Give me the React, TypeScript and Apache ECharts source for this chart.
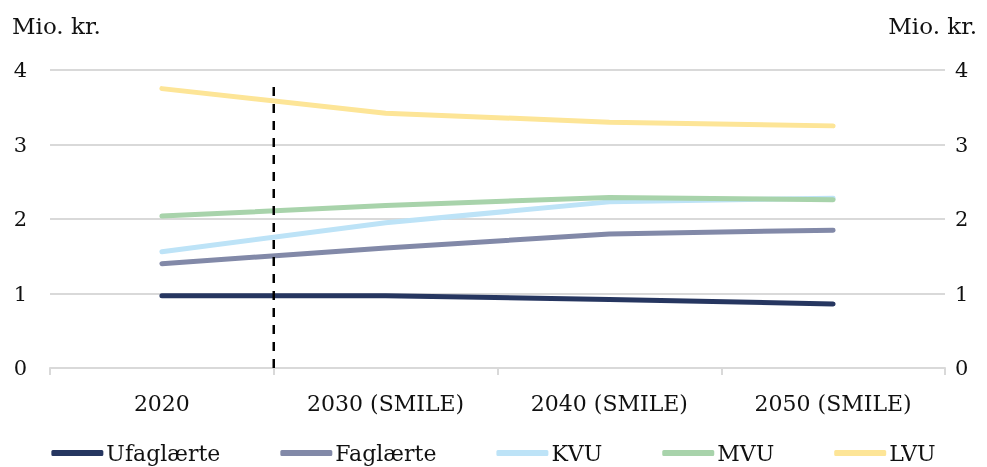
import React, { useEffect, useRef } from "react";
import * as echarts from "echarts";

// Lifetime income by education level, million DKK
const categories = ["2020", "2030 (SMILE)", "2040 (SMILE)", "2050 (SMILE)"];
const seriesNames = ["Ufaglærte", "Faglærte", "KVU", "MVU", "LVU"];
const ufaglaerte = [0.97, 0.97, 0.92, 0.86];
const faglaerte = [1.4, 1.61, 1.8, 1.85];
const kvu = [1.56, 1.95, 2.23, 2.28];
const mvu = [2.04, 2.18, 2.29, 2.26];
const lvu = [3.75, 3.42, 3.3, 3.25];
const yTicks = [0, 1, 2, 3, 4];
// Divider between actual and projected years (position on the category scale)
const dividerX = 1;
const dividerTop = 3.87;

const colors = ["#263660", "#8289a8", "#bde3f7", "#a8d3ab", "#fde597"];
const FONT = '"DejaVu Serif", serif';

export default function App() {
  const ref = useRef<HTMLDivElement>(null);

  useEffect(() => {
    if (!ref.current) return;
    const chart = echarts.init(ref.current, undefined, { renderer: "svg" });
    const values = [ufaglaerte, faglaerte, kvu, mvu, lvu];
    const yMin = yTicks[0];
    const yMax = yTicks[yTicks.length - 1];
    const yInterval = yTicks[1] - yTicks[0];

    const lineSeries = seriesNames.map((name, i) => ({
      name,
      type: "line",
      data: values[i],
      symbol: "none",
      xAxisIndex: 0,
      yAxisIndex: 0,
      lineStyle: { color: colors[i], width: 5, cap: "round", join: "round" },
      itemStyle: { color: colors[i] },
      z: 3 + i,
    }));

    chart.setOption({
      animation: false,
      textStyle: { fontFamily: FONT },
      grid: { left: 50, right: 42, top: 70, bottom: 99, containLabel: false },
      legend: {
        data: seriesNames,
        left: "center",
        top: 437,
        icon: "roundRect",
        itemWidth: 52,
        itemHeight: 6,
        itemGap: 60,
        textStyle: { fontFamily: FONT, fontSize: 22, color: "#111", padding: [0, 0, 0, -2] },
      },
      xAxis: [
        {
          type: "category",
          data: categories,
          boundaryGap: true,
          axisLine: { lineStyle: { color: "#d9d9d9", width: 2 } },
          axisTick: { show: true, length: 7, lineStyle: { color: "#d9d9d9", width: 2 } },
          axisLabel: { fontFamily: FONT, fontSize: 22, color: "#111", margin: 24 },
        },
        {
          type: "value",
          min: 0,
          max: categories.length,
          show: false,
        },
      ],
      yAxis: [
        {
          type: "value",
          min: yMin,
          max: yMax,
          interval: yInterval,
          axisLine: { show: false },
          axisTick: { show: false },
          splitLine: { lineStyle: { color: "#d9d9d9", width: 2 } },
          axisLabel: { fontFamily: FONT, fontSize: 21, color: "#111", margin: 23 },
        },
        {
          type: "value",
          position: "right",
          min: yMin,
          max: yMax,
          interval: yInterval,
          axisLine: { show: false },
          axisTick: { show: false },
          splitLine: { show: false },
          axisLabel: { fontFamily: FONT, fontSize: 21, color: "#111", margin: 10 },
        },
      ],
      graphic: [
        {
          type: "text",
          left: 12,
          top: 14,
          style: { text: "Mio. kr.", fontFamily: FONT, fontSize: 23, fill: "#111" },
        },
        {
          type: "text",
          right: 10,
          top: 14,
          style: { text: "Mio. kr.", fontFamily: FONT, fontSize: 23, fill: "#111" },
        },
      ],
      series: [
        {
          name: "divider",
          type: "line",
          xAxisIndex: 1,
          yAxisIndex: 0,
          data: [
            [dividerX, yMin],
            [dividerX, dividerTop],
          ],
          symbol: "none",
          silent: true,
          lineStyle: { color: "#000", width: 2.5, type: [9, 8] },
          z: 10,
        },
        ...lineSeries,
      ],
    });

    return () => chart.dispose();
  }, []);

  return (
    <div
      ref={ref}
      style={{ position: "fixed", left: 0, top: 0, width: 987, height: 467 }}
    />
  );
}
